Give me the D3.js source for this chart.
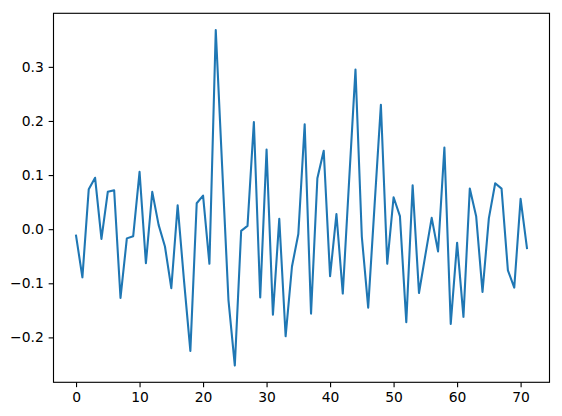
<!DOCTYPE html>
<html>
<head>
<meta charset="utf-8">
<script src="https://cdn.jsdelivr.net/npm/d3@7"></script>
<style>
  body { margin: 0; background: #fff; }
  svg { display: block; font-family: "DejaVu Sans", sans-serif; }
</style>
</head>
<body>
<div id="chart"></div>
<script>
// series values, index 0..71
let values = [
  -0.012, -0.089, 0.074, 0.095, -0.018, 0.069, 0.072, -0.127, -0.017, -0.013,
  0.106, -0.063, 0.069, 0.008, -0.032, -0.109, 0.044, -0.095, -0.225, 0.048,
  0.062, -0.064, 0.368, 0.117, -0.131, -0.252, -0.003, 0.006, 0.198, -0.126,
  0.147, -0.158, 0.019, -0.198, -0.069, -0.009, 0.194, -0.156, 0.094, 0.145,
  -0.087, 0.028, -0.119, 0.09, 0.295, -0.014, -0.145, 0.043, 0.23, -0.064,
  0.059, 0.024, -0.172, 0.081, -0.118, -0.048, 0.021, -0.041, 0.151, -0.175,
  -0.025, -0.162, 0.075, 0.024, -0.116, 0.02, 0.085, 0.075, -0.076, -0.108,
  0.056, -0.035
];
let xTicks = [0, 10, 20, 30, 40, 50, 60, 70];
let yTicks = [-0.2, -0.1, 0.0, 0.1, 0.2, 0.3];

let width = 562, height = 416;
let margin = {left: 53.5, right: 12.5, top: 13.3, bottom: 33.7};
let pt = 100 / 72;

let data = values.map((v, i) => ({i: i, v: v}));

let svg = d3.select("#chart")
            .append("svg")
            .attr("width", width)
            .attr("height", height);

// matplotlib style 5% margins
let n = values.length - 1;
let xPad = n * 0.05;
let yMin = d3.min(values), yMax = d3.max(values);
let yPad = (yMax - yMin) * 0.05;

let x = d3.scaleLinear()
          .domain([-xPad, n + xPad])
          .range([margin.left, width - margin.right]);

let y = d3.scaleLinear()
          .domain([yMin - yPad, yMax + yPad])
          .range([height - margin.bottom, margin.top]);

let line = d3.line()
             .x(d => x(d.i))
             .y(d => y(d.v));

svg.append("path")
   .datum(data)
   .attr("d", line)
   .style("fill", "none")
   .style("stroke", "#1f77b4")
   .style("stroke-width", 1.5 * pt)
   .style("stroke-linejoin", "round")
   .style("stroke-linecap", "square");

let gx = svg.append("g")
            .attr("transform", "translate(0," + (height - margin.bottom) + ")")
            .call(d3.axisBottom(x)
                    .tickValues(xTicks)
                    .tickFormat(d3.format("d"))
                    .tickSize(3.5 * pt)
                    .tickPadding(3.5 * pt));

let gy = svg.append("g")
            .attr("transform", "translate(" + margin.left + ",0)")
            .call(d3.axisLeft(y)
                    .tickValues(yTicks)
                    .tickFormat(d => d3.format(".1f")(d).replace("-", "\u2212"))
                    .tickSize(3.5 * pt)
                    .tickPadding(3.5 * pt));

[gx, gy].forEach(g => {
  g.select(".domain").remove();
  g.selectAll(".tick line")
   .attr("stroke", "#000")
   .attr("stroke-width", 0.8 * pt);
  g.selectAll(".tick text")
   .attr("fill", "#000")
   .attr("font-size", (10 * pt) + "px")
   .attr("font-family", "DejaVu Sans");
});

// axes frame
svg.append("rect")
   .attr("x", margin.left)
   .attr("y", margin.top)
   .attr("width", width - margin.left - margin.right)
   .attr("height", height - margin.top - margin.bottom)
   .style("fill", "none")
   .style("stroke", "#000")
   .style("stroke-width", 0.8 * pt);
</script>
</body>
</html>
